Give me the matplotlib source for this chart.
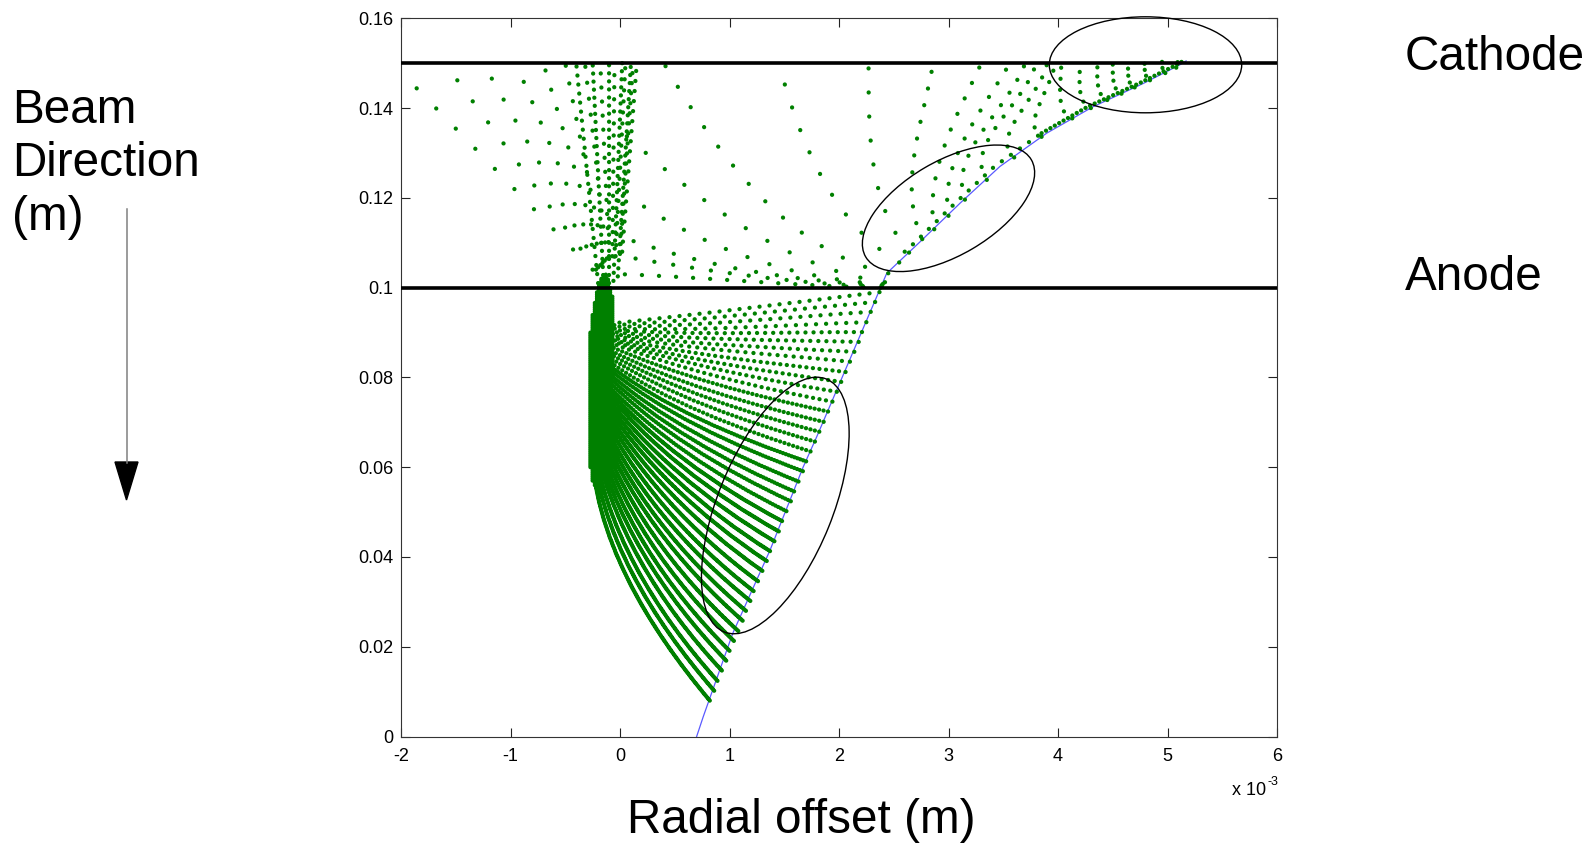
import numpy as np
import matplotlib
matplotlib.use("Agg")
import matplotlib.pyplot as plt
from matplotlib.path import Path
from matplotlib.patches import PathPatch, Ellipse, Polygon
from matplotlib.transforms import Affine2D
from matplotlib.lines import Line2D

plt.rcParams['font.family'] = ['Liberation Sans', 'DejaVu Sans']
plt.rcParams['lines.scale_dashes'] = False

# ---------------- data (x in units of 1e-3 m, y in m) ----------------
EMITTER_X = [0.70, 0.76, 1.03, 1.37, 1.674, 1.797, 2.436, 2.74, 3.105, 3.47, 3.896, 4.32, 4.78, 5.11, 5.17]
EMITTER_Y = [0.0, 0.0044, 0.023, 0.0415, 0.0601, 0.0668, 0.1032, 0.1102, 0.1188, 0.127, 0.1344, 0.1403, 0.1455, 0.1496, 0.1505]

# lower fan: trajectories from the emitter to the focus column
LOW_START_X = [0.82, 0.86, 0.89, 0.93, 0.97, 1.00, 1.04, 1.08, 1.12, 1.15, 1.19, 1.22, 1.26, 1.30,
               1.34, 1.37, 1.41, 1.45, 1.48, 1.52, 1.56, 1.59, 1.63, 1.67, 1.70, 1.74, 1.78, 1.82,
               1.86, 1.90, 1.94, 1.98, 2.02, 2.06, 2.10, 2.14, 2.18, 2.21, 2.25, 2.29, 2.33, 2.37]
LOW_START_Y = [0.0080, 0.0102, 0.0124, 0.0147, 0.0169, 0.0191, 0.0213, 0.0235, 0.0258, 0.0280,
               0.0302, 0.0324, 0.0346, 0.0369, 0.0391, 0.0413, 0.0435, 0.0457, 0.0480, 0.0502,
               0.0524, 0.0546, 0.0568, 0.0591, 0.0613, 0.0635, 0.0657, 0.0679, 0.0701, 0.0724,
               0.0746, 0.0768, 0.0790, 0.0812, 0.0835, 0.0857, 0.0879, 0.0901, 0.0923, 0.0946,
               0.0968, 0.0990]
LOW_END_X = [-0.260, -0.255, -0.251, -0.246, -0.241, -0.237, -0.232, -0.227, -0.223, -0.218,
             -0.213, -0.209, -0.204, -0.199, -0.195, -0.190, -0.185, -0.181, -0.176, -0.171,
             -0.167, -0.162, -0.157, -0.153, -0.148, -0.143, -0.139, -0.134, -0.129, -0.125,
             -0.120, -0.116, -0.113, -0.109, -0.105, -0.102, -0.098, -0.095, -0.091, -0.087,
             -0.084, -0.080]
LOW_END_Y = [0.0660, 0.0667, 0.0675, 0.0682, 0.0689, 0.0697, 0.0704, 0.0711, 0.0719, 0.0726,
             0.0733, 0.0741, 0.0748, 0.0755, 0.0763, 0.0770, 0.0777, 0.0785, 0.0792, 0.0799,
             0.0807, 0.0814, 0.0821, 0.0829, 0.0836, 0.0843, 0.0851, 0.0858, 0.0865, 0.0873,
             0.0880, 0.0884, 0.0887, 0.0891, 0.0895, 0.0898, 0.0902, 0.0906, 0.0909, 0.0913,
             0.0916, 0.0920]
LOW_ANGLE_START = [50, 49, 48, 46.9, 45.9, 44.8, 43.6, 42.5, 41.3, 40.1, 38.8, 37.6, 36.2, 34.9,
                   33.5, 32.2, 30.8, 29.3, 27.9, 26.5, 25.0, 23.6, 22.1, 20.6, 19.1, 17.7, 16.2,
                   14.8, 13.4, 12.0, 10.7, 9.4, 8.1, 6.9, 5.7, 3.0, 1.5, 0.0, -2.0, -3.5, -5.0, -7.0]
LOW_ANGLE_END = [90, 87, 84, 81, 79, 77, 75, 73, 71, 69, 67, 64.5, 62, 60, 58, 56, 54, 52, 50, 48,
                 46, 44, 42, 40, 38, 36, 33, 30, 27, 24, 21, 18, 15.5, 13, 10.5, 8, 6, 4, 2, 0, -3, -6]

# dense column near the axis
COL_X = [-0.27, -0.25, -0.23, -0.21, -0.19, -0.17, -0.15, -0.13, -0.11, -0.09, -0.07]
COL_Y0 = [0.060, 0.057, 0.056, 0.057, 0.058, 0.060, 0.063, 0.066, 0.070, 0.075, 0.080]
COL_Y1 = [0.090, 0.094, 0.097, 0.099, 0.101, 0.102, 0.103, 0.103, 0.102, 0.100, 0.098]

# rows leaving the emitter near the anode level
MID_START_X = [2.38, 2.39, 2.39, 2.40, 2.42]
MID_START_Y = [0.1000, 0.1002, 0.1005, 0.1008, 0.1012]
MID_END_X = [0.00, 0.02, 0.05, 0.10, 0.05]
MID_END_Y = [0.1030, 0.1070, 0.1110, 0.1200, 0.1340]
MID_ANGLE_START = [1, 2, 3, 3, 8]
MID_ANGLE_END = [2, 10, 20, 35, 42]

# upper trajectories from the emitter to the cathode
UP_START_X = [2.45, 2.55, 2.64, 2.76, 2.87, 3.00, 3.15, 3.35, 3.60, 3.85, 4.13, 4.30, 4.45, 4.58, 4.70, 4.84, 4.98, 5.08]
UP_START_Y = [0.1032, 0.1056, 0.1078, 0.1108, 0.1130, 0.1160, 0.1196, 0.1240, 0.1290, 0.1336, 0.1377,
              0.1400, 0.1418, 0.1432, 0.1446, 0.1462, 0.1478, 0.1490]
UP_END_X = [0.40, 1.45, 2.27, 2.86, 3.30, 3.56, 3.70, 3.80, 3.90, 3.97, 4.03, 4.20, 4.36, 4.50, 4.64, 4.79, 4.95, 5.10]
UP_END_Y = [0.1500, 0.1500, 0.1500, 0.1500, 0.1500, 0.1500, 0.1500, 0.1500, 0.1500, 0.1500, 0.1500,
            0.1500, 0.1500, 0.1500, 0.1500, 0.1500, 0.1505, 0.1508]
UP_ANGLE_START = [12, 30, 50, 65, 80, 80, 70, 55, 40, 30, 20, 20, 20, 20, 20, 25, 30, 45]
UP_ANGLE_END = [60, 75, 90, 100, 115, 120, 110, 105, 100, 95, 90, 90, 90, 90, 90, 90, 90, 90]

# funnel above the anode (rows fanning out to the cathode)
FUN_START_X = [-0.25, -0.22, -0.20, -0.18, -0.16, -0.14, -0.12, -0.10, -0.07, -0.04, 0.00, 0.02,
               -0.20, -0.15, -0.10, -0.06, -0.02]
FUN_START_Y = [0.1040, 0.1040, 0.1045, 0.1050, 0.1055, 0.1060, 0.1065, 0.1070, 0.1070, 0.1070, 0.1075, 0.1080,
               0.1010, 0.1010, 0.1010, 0.1015, 0.1025]
FUN_END_X = [-2.00, -1.60, -1.25, -0.95, -0.70, -0.50, -0.32, -0.18, -0.05, 0.05, 0.12, 0.15,
             -0.40, -0.25, -0.10, 0.02, 0.10]
FUN_END_Y = [0.1480, 0.1500, 0.1500, 0.1500, 0.1500, 0.1500, 0.1500, 0.1500, 0.1500, 0.1500, 0.1500, 0.1490,
             0.1500, 0.1500, 0.1500, 0.1500, 0.1500]
FUN_SPACING = [28, 26, 24, 22, 20, 18, 16, 14, 12, 11, 10, 10, 9, 8, 8, 8, 8]

# dots hugging the emitter in the upper part
EDGE1_X = [2.60, 2.70, 3.06, 3.42, 3.85]
EDGE1_Y = [0.1080, 0.1102, 0.1188, 0.1270, 0.1344]
EDGE2_X = [3.85, 4.27, 4.74, 5.08, 5.15]
EDGE2_Y = [0.1344, 0.1403, 0.1455, 0.1496, 0.1506]

ELECTRODE_Y = [0.15, 0.10]
ELECTRODE_NAMES = ['Cathode', 'Anode']
X_TICKS = [-2, -1, 0, 1, 2, 3, 4, 5, 6]
X_TICK_LABELS = ['-2', '-1', '0', '1', '2', '3', '4', '5', '6']
Y_TICKS = [0, 0.02, 0.04, 0.06, 0.08, 0.10, 0.12, 0.14, 0.16]
Y_TICK_LABELS = ['0', '0.02', '0.04', '0.06', '0.08', '0.1', '0.12', '0.14', '0.16']

# ---------------- figure ----------------
W, H = 1591, 843
GREEN = '#008000'
fig = plt.figure(figsize=(W / 100, H / 100), dpi=100)
fig.patch.set_facecolor('white')
ax = fig.add_axes([401 / W, 1 - 736.5 / H, 876 / W, 718.2 / H])
ax.set_xlim(-2, 6)
ax.set_ylim(0, 0.16)
PX = 876 / 8.0
PY = 718.2 / 0.16
SCR = Affine2D().scale(1, -1).translate(0, H)  # screen pixels (y down) -> display


def trajectory(x0, y0, x1, y1, a0=None, a1=None, sp=10.0, lw=3.1, z=3):
    X0, Y0, X1, Y1 = x0 * PX, y0 * PY, x1 * PX, y1 * PY
    L = np.hypot(X1 - X0, Y1 - Y0)
    chord = np.degrees(np.arctan2(Y1 - Y0, -(X1 - X0)))
    a0 = chord if a0 is None else a0
    a1 = chord if a1 is None else a1
    r0, r1 = np.radians(a0), np.radians(a1)
    c1 = (X0 - L / 3 * np.cos(r0), Y0 + L / 3 * np.sin(r0))
    c2 = (X1 + L / 3 * np.cos(r1), Y1 - L / 3 * np.sin(r1))
    verts = [(X0 / PX, Y0 / PY), (c1[0] / PX, c1[1] / PY), (c2[0] / PX, c2[1] / PY), (X1 / PX, Y1 / PY)]
    path = Path(verts, [Path.MOVETO, Path.CURVE4, Path.CURVE4, Path.CURVE4])
    p = PathPatch(path, fill=False, edgecolor=GREEN, lw=lw, zorder=z,
                  linestyle=(0, (0.05, sp * 0.72)), capstyle='round', joinstyle='round')
    ax.add_patch(p)


def dotted_polyline(xs, ys, sp, lw=3.1):
    ax.add_patch(PathPatch(Path(list(zip(xs, ys))), fill=False, edgecolor=GREEN, lw=lw, zorder=3,
                           linestyle=(0, (0.05, sp * 0.72)), capstyle='round', joinstyle='round'))


# emitter surface
ax.plot(EMITTER_X, EMITTER_Y, color='#5a5aff', lw=0.9, zorder=2)

# lower fan
for k in range(len(LOW_START_X)):
    if k <= 18:
        sp = 2.0
    elif k <= 24:
        sp = 3.0
    elif k <= 29:
        sp = 4.5
    elif k <= 33:
        sp = 6.5
    elif k <= 37:
        sp = 8.0
    else:
        sp = 10.0
    trajectory(LOW_START_X[k], LOW_START_Y[k], LOW_END_X[k], LOW_END_Y[k],
               LOW_ANGLE_START[k], LOW_ANGLE_END[k], sp)

# column
for x, y0, y1 in zip(COL_X, COL_Y0, COL_Y1):
    trajectory(x, y0, x, y1, None, None, 2.0)

# mid rows
for i in range(len(MID_START_X)):
    trajectory(MID_START_X[i], MID_START_Y[i], MID_END_X[i], MID_END_Y[i],
               MID_ANGLE_START[i], MID_ANGLE_END[i], 17 + 2 * i)

# upper rows
for i in range(len(UP_START_X)):
    sp = 24 if i < 3 else (17 if i < 5 else max(6, 16 - (i - 5)))
    trajectory(UP_START_X[i], UP_START_Y[i], UP_END_X[i], UP_END_Y[i],
               UP_ANGLE_START[i], UP_ANGLE_END[i], sp)

# funnel
for i in range(len(FUN_START_X)):
    trajectory(FUN_START_X[i], FUN_START_Y[i], FUN_END_X[i], FUN_END_Y[i], None, None, FUN_SPACING[i])

dotted_polyline(EDGE1_X, EDGE1_Y, 11)
dotted_polyline(EDGE2_X, EDGE2_Y, 5)

# electrodes
for yv in ELECTRODE_Y:
    ax.axhline(yv, color='black', lw=2.6, zorder=4)

# axes styling
ax.set_xticks(X_TICKS)
ax.set_xticklabels(X_TICK_LABELS)
ax.set_yticks(Y_TICKS)
ax.set_yticklabels(Y_TICK_LABELS)
ax.tick_params(direction='in', length=6.5, width=0.8, top=True, right=True,
               labelsize=13, colors='#222222', labelcolor='black')
ax.tick_params(axis='x', pad=8)
ax.tick_params(axis='y', pad=5.5)
for s in ax.spines.values():
    s.set_color('#333333')
    s.set_linewidth(0.8)

# multiplier
fig.text(1266, 795, 'x 10', fontsize=13, ha='right', va='baseline', transform=SCR)
fig.text(1267, 785, '-3', fontsize=9, ha='left', va='baseline', transform=SCR)

# big labels
fig.text(801.5, 833, 'Radial offset (m)', fontsize=34.3, ha='center', va='baseline', transform=SCR)
for txt, yb in zip(['Beam', 'Direction', '(m)'], [123.3, 176.0, 230.0]):
    fig.text(12, yb, txt, fontsize=34.3, ha='left', va='baseline', transform=SCR)
for txt, yb in zip(ELECTRODE_NAMES, [70, 290]):
    fig.text(1405, yb, txt, fontsize=34.3, ha='left', va='baseline', transform=SCR)

# beam direction arrow
fig.add_artist(Line2D([126.5, 126.5], [209, 463], color='#808080', lw=1.1, transform=SCR))
fig.add_artist(Polygon([(115, 462), (138, 462), (126.5, 500)], closed=True, color='black', transform=SCR))

# highlight ellipses
for (cx, cy, w, h, ang) in [(1145.5, 64.8, 192.4, 96, 0), (948.5, 208.3, 192, 94, -30.4),
                            (775.3, 505.5, 272.8, 115, -68)]:
    fig.add_artist(Ellipse((cx, cy), w, h, angle=ang, fill=False, ec='black', lw=1.0, transform=SCR))

fig.savefig('out.png', dpi=100, facecolor='white')
